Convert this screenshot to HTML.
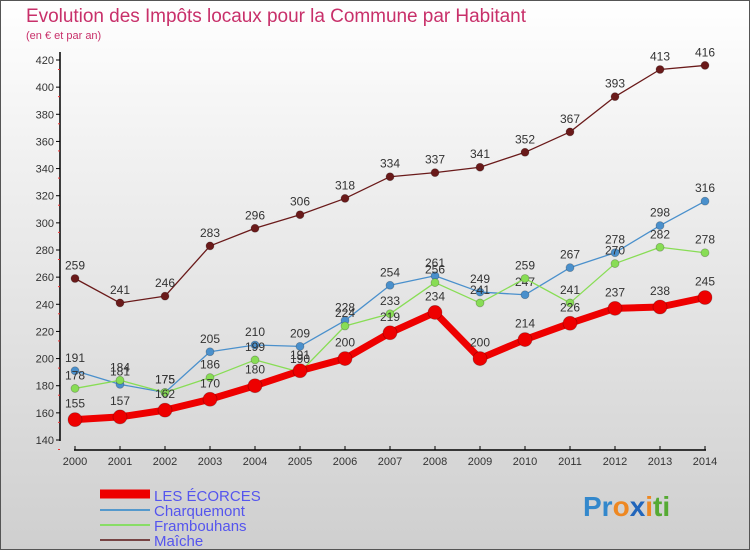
<!DOCTYPE html>
<html><head><meta charset="utf-8"><style>
body{margin:0;width:750px;height:550px;overflow:hidden;font-family:"Liberation Sans",sans-serif}
#c{position:absolute;left:0;top:0;width:748px;height:548px;border:1px solid #555;background:linear-gradient(#ffffff,#f0f0f0 30%,#cfcfcf)}
</style></head><body>
<div id="c">
<svg width="750" height="550" id="svg" style="position:absolute;left:-1px;top:-1px">
<text x="26" y="22" font-size="19" fill="#c8306a" textLength="500">Evolution des Impôts locaux pour la Commune par Habitant</text>
<text x="26" y="39" font-size="11" fill="#c8306a">(en € et par an)</text>
<g id="axes"></g><g id="series"></g>
<g>
<line x1="100" y1="494" x2="150" y2="494" stroke="#e00" stroke-width="9"/>
<text x="154" y="501" font-size="15" fill="#5555ee">LES ÉCORCES</text>
<line x1="100" y1="510" x2="150" y2="510" stroke="#5599cc" stroke-width="2"/>
<text x="154" y="516" font-size="15" fill="#5555ee">Charquemont</text>
<line x1="100" y1="525" x2="150" y2="525" stroke="#88dd66" stroke-width="2"/>
<text x="154" y="531" font-size="15" fill="#5555ee">Frambouhans</text>
<line x1="100" y1="540" x2="150" y2="540" stroke="#774444" stroke-width="2"/>
<text x="154" y="546" font-size="15" fill="#5555ee">Maîche</text>
</g>
<text x="583" y="516" font-size="28" font-weight="bold"><tspan fill="#3388cc">Pr</tspan><tspan fill="#ee8822">o</tspan><tspan fill="#2266bb">x</tspan><tspan fill="#ee8822">i</tspan><tspan fill="#55aa33">ti</tspan></text>
</svg>
</div>
<script>
const years=[2000,2001,2002,2003,2004,2005,2006,2007,2008,2009,2010,2011,2012,2013,2014];
const yTicks=[140,160,180,200,220,240,260,280,300,320,340,360,380,400,420];
const ecorces=[155,157,162,170,180,191,200,219,234,200,214,226,237,238,245];
const charquemont=[191,181,175,205,210,209,228,254,261,249,247,267,278,298,316];
const frambouhans=[178,184,175,186,199,190,224,233,256,241,259,241,270,282,278];
const maiche=[259,241,246,283,296,306,318,334,337,341,352,367,393,413,416];
const NS="http://www.w3.org/2000/svg";
const xs=i=>75+i*(705-75)/(years.length-1);
const ys=v=>440-(v-140)*380/280;
function mk(tag,attrs,parent){const e=document.createElementNS(NS,tag);for(const k in attrs)e.setAttribute(k,attrs[k]);parent.appendChild(e);return e;}
const ax=document.getElementById('axes');
let e=mk('line',{x1:60,y1:52,x2:60,y2:441,stroke:'#000','stroke-width':1.5},ax);


e=mk('line',{x1:74,y1:450,x2:706,y2:450,stroke:'#000','stroke-width':1.5},ax);


yTicks.forEach(t=>{const y=ys(t);
mk('line',{x1:56,y1:y,x2:60,y2:y,stroke:'#000'},ax);
mk('line',{x1:58,y1:y+9.5,x2:60,y2:y+9.5,stroke:'#e33'},ax);
const tx=mk('text',{x:54,y:y+4,'font-size':11,fill:'#333','text-anchor':'end'},ax);tx.textContent=t;

});
years.forEach((yr,i)=>{const x=xs(i);
mk('line',{x1:x,y1:446,x2:x,y2:450,stroke:'#000'},ax);
const tx=mk('text',{x:x,y:465,'font-size':11,fill:'#333','text-anchor':'middle'},ax);tx.textContent=yr;

});
const sg=document.getElementById('series');
function series(vals,color,w,r,name){
const g=mk('g',{},sg);


const p=mk('polyline',{points:vals.map((v,i)=>xs(i)+','+ys(v)).join(' '),fill:'none',stroke:color,'stroke-width':w,'stroke-linejoin':'round'},g);


vals.forEach((v,i)=>{const c=mk('circle',{cx:xs(i),cy:ys(v),r:r,fill:color,stroke:'rgba(0,0,0,0.25)','stroke-width':0.8},g);


const t=mk('text',{x:xs(i),y:ys(v)-r-5,'font-size':12,fill:'#333','text-anchor':'middle'},g);t.textContent=v;

});}
series(maiche,'#6a1a1a',1.3,4,'maiche');
series(charquemont,'#4a90cc',1.3,4,'charquemont');
series(frambouhans,'#88dd55',1.3,4,'frambouhans');
series(ecorces,'#ee0000',7,7,'les-ecorces');
</script>
</body></html>
